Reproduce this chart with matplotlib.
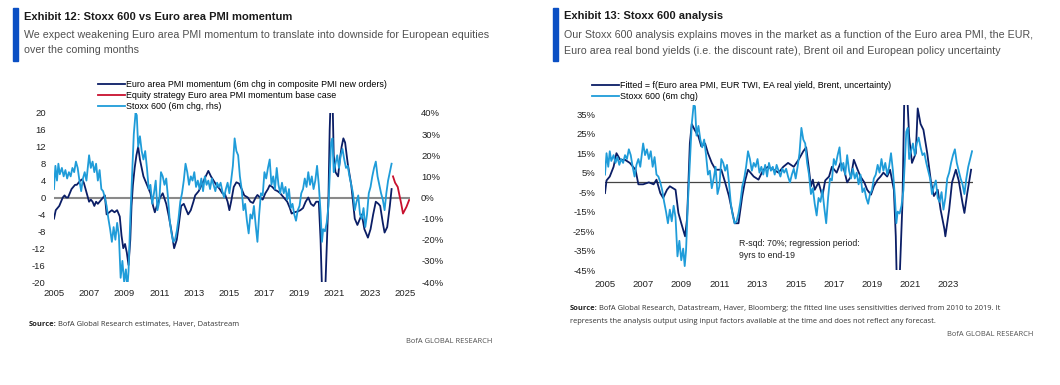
import matplotlib
matplotlib.use("Agg")
import matplotlib.pyplot as plt
from matplotlib import font_manager as fm

# ---------------- data ----------------
stoxx_years = [2005.00, 2005.08, 2005.17, 2005.25, 2005.33, 2005.45, 2005.55, 2005.65, 2005.75, 2005.85,
               2005.95, 2006.05, 2006.15, 2006.25, 2006.35, 2006.45, 2006.55, 2006.65, 2006.75, 2006.85,
               2007.00, 2007.10, 2007.20, 2007.30, 2007.40, 2007.50, 2007.60, 2007.70, 2007.80, 2007.90,
               2008.00, 2008.10, 2008.20, 2008.30, 2008.40, 2008.50, 2008.60, 2008.70, 2008.80, 2008.90,
               2009.00, 2009.10, 2009.18, 2009.25, 2009.35, 2009.45, 2009.55, 2009.65, 2009.72, 2009.80,
               2009.90, 2010.00, 2010.10, 2010.20, 2010.30, 2010.40, 2010.50, 2010.60, 2010.70, 2010.80,
               2010.90, 2011.00, 2011.10, 2011.20, 2011.30, 2011.40, 2011.50, 2011.60, 2011.70, 2011.80,
               2011.90, 2012.00, 2012.10, 2012.20, 2012.30, 2012.40, 2012.50, 2012.60, 2012.70, 2012.80,
               2012.90, 2013.00, 2013.10, 2013.20, 2013.30, 2013.40, 2013.50, 2013.60, 2013.70, 2013.80,
               2013.90, 2014.00, 2014.10, 2014.20, 2014.30, 2014.40, 2014.50, 2014.60, 2014.70, 2014.80,
               2014.90, 2015.00, 2015.10, 2015.20, 2015.30, 2015.40, 2015.50, 2015.60, 2015.70, 2015.80,
               2015.90, 2016.00, 2016.10, 2016.20, 2016.30, 2016.40, 2016.50, 2016.60, 2016.70, 2016.80,
               2016.90, 2017.00, 2017.10, 2017.20, 2017.30, 2017.40, 2017.50, 2017.60, 2017.70, 2017.80,
               2017.90, 2018.00, 2018.10, 2018.20, 2018.30, 2018.40, 2018.50, 2018.60, 2018.70, 2018.80,
               2018.90, 2019.00, 2019.10, 2019.20, 2019.30, 2019.40, 2019.50, 2019.60, 2019.70, 2019.80,
               2019.90, 2020.00, 2020.10, 2020.20, 2020.28, 2020.35, 2020.45, 2020.55, 2020.65, 2020.72,
               2020.80, 2020.88, 2020.95, 2021.05, 2021.15, 2021.25, 2021.35, 2021.45, 2021.55, 2021.65,
               2021.75, 2021.85, 2021.95, 2022.05, 2022.15, 2022.25, 2022.35, 2022.45, 2022.55, 2022.65,
               2022.75, 2022.85, 2022.95, 2023.05, 2023.15, 2023.25, 2023.35, 2023.45, 2023.55, 2023.65,
               2023.75, 2023.85, 2023.95, 2024.05, 2024.15, 2024.25]
stoxx_6m_chg = [4, 15, 8, 16, 11, 14, 10, 13, 9, 12,
                10, 14, 12, 17, 14, 8, 3, 9, 12, 8,
                20, 14, 17, 12, 16, 8, 13, 4, 3, 0,
                -4, -10, -15, -21, -14, -20, -12, -18, -38, -30,
                -40, -34, -43, -35, -10, 10, 30, 40, 39, 24,
                29, 22, 18, 22, 14, 4, 6, -3, 2, 8,
                -6, -2, 12, 10, 6, 9, 0, -11, -17, -21,
                -20, -16, -10, -2, 2, 8, 16, 12, 6, 10,
                8, 12, 5, 8, 4, 9, 3, 10, 6, 8,
                4, 9, 6, 3, 7, 5, 7, 3, 0, 4,
                7, 2, 8, 15, 28, 22, 20, 10, 4, -6,
                -3, -11, -17, -8, -10, -4, -13, -21, -8, 2,
                1, 12, 9, 14, 18, 6, 10, 4, 14, 6,
                2, 7, 2, 5, -1, 4, -5, -3, -8, -11,
                -6, -4, 2, 4, 9, 5, 12, 6, 10, 4,
                8, 15, 6, -7, -21, -15, -16, -12, -4, 10,
                26, 28, 12, 16, 20, 14, 20, 23, 18, 14,
                15, 10, 6, 2, -6, -2, 1, -8, -10, -5,
                -14, -8, 2, 5, 10, 14, 17, 10, 6, 2,
                -1, -6, 2, 8, 12, 16]

pmi_years = [2005.00, 2005.10, 2005.20, 2005.30, 2005.40, 2005.50, 2005.60, 2005.70, 2005.80, 2005.90,
             2006.00, 2006.10, 2006.20, 2006.30, 2006.40, 2006.50, 2006.60, 2006.70, 2006.80, 2006.90,
             2007.00, 2007.10, 2007.20, 2007.30, 2007.40, 2007.50, 2007.60, 2007.70, 2007.80, 2007.90,
             2008.00, 2008.15, 2008.30, 2008.45, 2008.60, 2008.75, 2008.85, 2008.95, 2009.05, 2009.15,
             2009.25, 2009.35, 2009.42, 2009.50, 2009.60, 2009.70, 2009.80, 2009.90, 2010.00, 2010.10,
             2010.20, 2010.35, 2010.50, 2010.65, 2010.75, 2010.90, 2011.05, 2011.20, 2011.40, 2011.55,
             2011.70, 2011.85, 2012.00, 2012.10, 2012.25, 2012.40, 2012.55, 2012.65, 2012.80, 2012.95,
             2013.05, 2013.25, 2013.40, 2013.60, 2013.80, 2013.95, 2014.10, 2014.25, 2014.45, 2014.60,
             2014.75, 2014.90, 2015.00, 2015.10, 2015.25, 2015.40, 2015.55, 2015.70, 2015.85, 2016.05,
             2016.20, 2016.35, 2016.50, 2016.60, 2016.75, 2016.90, 2017.05, 2017.20, 2017.30, 2017.45,
             2017.60, 2017.75, 2017.90, 2018.10, 2018.30, 2018.45, 2018.55, 2018.70, 2018.90, 2019.05,
             2019.20, 2019.35, 2019.50, 2019.65, 2019.80, 2019.95, 2020.10, 2020.20, 2020.27, 2020.35,
             2020.45, 2020.55, 2020.65, 2020.72, 2020.78, 2020.88, 2020.95, 2021.05, 2021.20, 2021.30,
             2021.40, 2021.50, 2021.60, 2021.75, 2021.95, 2022.05, 2022.15, 2022.30, 2022.45, 2022.55,
             2022.70, 2022.80, 2022.90, 2023.05, 2023.20, 2023.35, 2023.50, 2023.60, 2023.75, 2023.85,
             2024.00, 2024.15, 2024.25]
pmi_momentum = [-5, -3, -2.5, -2, -1, 0, 0.5, 0, 0, 1,
                2, 2.5, 3, 3, 3.5, 4, 4.3, 3.5, 2, 0.5,
                -1, -0.5, -1, -2, -1, -1.5, -1, -0.5, 0, 0.5,
                -4, -3.5, -3, -3.5, -3, -4.5, -9, -12, -11, -13,
                -16, -10, -2, 3, 7, 10, 12, 9, 7, 5,
                4, 2.5, 1, -2, -3.5, -1.5, 0, 1, -1.5, -4.5,
                -8, -12, -10, -7, -2, -1.5, -3, -4, -3, -1,
                0.5, 1.5, 2.8, 4.5, 6.3, 5, 4, 3, 2, 1,
                0.8, -1, -3, -1, 2.5, 3.6, 3.3, 2, 0.5, 0,
                -1, -1.3, 0, 0.6, 0, -0.5, 1, 2, 2.9, 2.5,
                1.8, 1.5, 1, 0, -1, -2.5, -3.8, -3.5, -3.3, -3,
                -2.5, -1, 0, -1.5, -2, -1, -1, -10, -20, -24,
                -24, -12, 0, 16, 24, 24, 10, 6, 5, 9,
                12, 14, 13, 8, 3, -1, -5, -6.5, -5, -4,
                -7.5, -8.5, -9.5, -7.5, -4, -1, -1.5, -2, -6, -8.3,
                -7, -2, 2]

base_case_years = [2024.33, 2024.45, 2024.60, 2024.70, 2024.80, 2024.90, 2025.00, 2025.10, 2025.25]
base_case_momentum = [5, 3.5, 2.5, 0.5, -1.5, -3.8, -3, -2.2, -0.6]

fitted_years = [2005.00, 2005.08, 2005.25, 2005.45, 2005.60, 2005.80, 2006.05, 2006.30, 2006.60, 2006.75,
                2007.00, 2007.30, 2007.55, 2007.70, 2007.90, 2008.05, 2008.25, 2008.40, 2008.70, 2008.85,
                2009.00, 2009.20, 2009.30, 2009.35, 2009.45, 2009.55, 2009.70, 2009.90, 2010.05, 2010.25,
                2010.40, 2010.60, 2010.80, 2010.95, 2011.10, 2011.30, 2011.50, 2011.65, 2011.80, 2012.00,
                2012.20, 2012.35, 2012.50, 2012.80, 2013.05, 2013.30, 2013.55, 2013.85, 2014.10, 2014.35,
                2014.60, 2014.90, 2015.15, 2015.40, 2015.55, 2015.68, 2015.80, 2015.90, 2016.00, 2016.20,
                2016.40, 2016.55, 2016.75, 2016.90, 2017.15, 2017.35, 2017.50, 2017.70, 2017.90, 2018.05,
                2018.25, 2018.40, 2018.60, 2018.75, 2018.95, 2019.10, 2019.30, 2019.45, 2019.60, 2019.80,
                2019.95, 2020.15, 2020.25, 2020.30, 2020.45, 2020.60, 2020.70, 2020.85, 2020.95, 2021.10,
                2021.30, 2021.40, 2021.55, 2021.70, 2021.90, 2022.10, 2022.25, 2022.45, 2022.60, 2022.80,
                2022.85, 2023.05, 2023.20, 2023.40, 2023.55, 2023.75, 2023.85, 2024.00, 2024.20]
fitted_values = [-5.5, 1, 3, 8, 15, 11.6, 11.6, 10, 6.5, -1,
                 -1, 0, -1, 1.4, -5.5, -8, -3.8, -2, -3.8, -15.7,
                 -21, -27.7, -19, -7, 20, 30, 27, 23.6, 18.5, 20,
                 15, 10, 6.5, 6.5, 6.5, 0, -7, -14, -21, -21,
                 -7, 1, 6.5, 3, 1.4, 6.5, 8, 6.5, 5, 8,
                 10, 8, 11.6, 16, 18, 8, -2, 1.4, -3.8, 0,
                 -7, 1, 3, 8, 5, 10, 8, 0, 3, 11.6,
                 6.5, 3, 0, -3.8, -6.3, -2, 1.4, 3, 5, 3,
                 6.5, -3.8, -27.7, -50, -50, -10.6, 45, 45, 23.6, 10,
                 15, 38, 30, 27, 15, 0, -7, -3.8, -14, -24,
                 -27.7, -14, 0, 6.5, 1, -10.6, -15.7, -5.5, 6.5]

left_yticks = [-20, -16, -12, -8, -4, 0, 4, 8, 12, 16, 20]
right_yticks = [-40, -30, -20, -10, 0, 10, 20, 30, 40]
fit_yticks = [-45, -35, -25, -15, -5, 5, 15, 25, 35]
left_xticks = [2005, 2007, 2009, 2011, 2013, 2015, 2017, 2019, 2021, 2023, 2025]
right_xticks = [2005, 2007, 2009, 2011, 2013, 2015, 2017, 2019, 2021, 2023]

# ---------------- style ----------------
names = {f.name for f in fm.fontManager.ttflist}
NARROW = "Liberation Sans Narrow" if "Liberation Sans Narrow" in names else "Liberation Sans"
plt.rcParams["font.family"] = [NARROW, "DejaVu Sans"]

NAVY = "#0b1e66"
LIGHT = "#1f9cd9"
RED = "#c8102e"
BAR = "#0a4fc4"
GREY_TXT = "#505050"

TICK_FS = 6.8
LEG_FS = 6.4
TITLE_FS = 8.0
SUB_FS = 7.7

W, H = 1060, 385
fig = plt.figure(figsize=(W / 100, H / 100), dpi=100)


def px_axes(x0, y0, x1, y1):
    return fig.add_axes([x0 / W, 1 - y1 / H, (x1 - x0) / W, (y1 - y0) / H])


def fx(x):
    return x / W


def fy(y):
    return 1 - y / H


def clean(ax):
    for s in ax.spines.values():
        s.set_visible(False)
    ax.tick_params(length=0, labelsize=TICK_FS, colors="#222222")
    ax.patch.set_alpha(0)


# ---------------- left panel ----------------
fig.patches.append(plt.Rectangle((fx(13), fy(61)), 5 / W, 53 / H, transform=fig.transFigure,
                                 color=BAR, zorder=5))
fig.text(fx(24), fy(19.5), "Exhibit 12: Stoxx 600 vs Euro area PMI momentum", fontsize=TITLE_FS,
         fontweight="bold", color="#1a1a1a", va="baseline")
fig.text(fx(24), fy(37.5), "We expect weakening Euro area PMI momentum to translate into downside for European equities",
         fontsize=SUB_FS, color=GREY_TXT, va="baseline")
fig.text(fx(24), fy(53), "over the coming months", fontsize=SUB_FS, color=GREY_TXT, va="baseline")

axL = px_axes(54, 113, 410, 282)
axL.set_xlim(2005, 2025.3)
axL.set_ylim(-20, 20)
axL.axhline(0, color="#8a8a8a", lw=1.5, zorder=1)
l1, = axL.plot(pmi_years, pmi_momentum, color=NAVY, lw=1.3, zorder=2)
l2, = axL.plot(base_case_years, base_case_momentum, color=RED, lw=1.3, zorder=2)
axL.set_yticks(left_yticks)
axL.set_yticklabels([str(v) for v in left_yticks])
axL.set_xticks(left_xticks)
axL.set_xticklabels([str(v) for v in left_xticks])
clean(axL)
axL.tick_params(axis="y", pad=6)
axL.tick_params(axis="x", pad=5)

axR = axL.twinx()
axR.set_ylim(-40, 40)
l3, = axR.plot(stoxx_years, stoxx_6m_chg, color=LIGHT, lw=1.3, zorder=3)
axR.set_yticks(right_yticks)
axR.set_yticklabels([f"{v}%" for v in right_yticks])
clean(axR)
axR.tick_params(axis="y", pad=8)

fig.legend([l1, l2, l3],
           ["Euro area PMI momentum (6m chg in composite PMI new orders)",
            "Equity strategy Euro area PMI momentum base case",
            "Stoxx 600 (6m chg, rhs)"],
           loc="upper left", bbox_to_anchor=(fx(98), fy(80)), frameon=False, fontsize=LEG_FS,
           handlelength=3.0, handletextpad=0.2, labelspacing=0.25, borderpad=0, borderaxespad=0)

# ---------------- right panel ----------------
fig.patches.append(plt.Rectangle((fx(553), fy(61)), 5 / W, 53 / H, transform=fig.transFigure,
                                 color=BAR, zorder=5))
fig.text(fx(564), fy(19), "Exhibit 13: Stoxx 600 analysis", fontsize=TITLE_FS, fontweight="bold",
         color="#1a1a1a", va="baseline")
fig.text(fx(564), fy(38), "Our Stoxx 600 analysis explains moves in the market as a function of the Euro area PMI, the EUR,",
         fontsize=SUB_FS, color=GREY_TXT, va="baseline")
fig.text(fx(564), fy(54), "Euro area real bond yields (i.e. the discount rate), Brent oil and European policy uncertainty",
         fontsize=SUB_FS, color=GREY_TXT, va="baseline")

axF = px_axes(605, 104.5, 973, 270)
axF.set_xlim(2005, 2024.3)
axF.set_ylim(-45, 40)
axF.axhline(0, color="#444444", lw=0.9, zorder=1)
f1, = axF.plot(fitted_years, fitted_values, color=NAVY, lw=1.3, zorder=2)
f2, = axF.plot(stoxx_years, stoxx_6m_chg, color=LIGHT, lw=1.3, zorder=3)
axF.set_yticks(fit_yticks)
axF.set_yticklabels([f"{v}%" for v in fit_yticks])
axF.set_xticks(right_xticks)
axF.set_xticklabels([str(v) for v in right_xticks])
clean(axF)
axF.tick_params(axis="y", pad=7)
axF.tick_params(axis="x", pad=7)
axF.text(fx(739), fy(244), "R-sqd: 70%; regression period:", transform=fig.transFigure,
         fontsize=6.3, color="#222222", va="center")
axF.text(fx(739), fy(256), "9yrs to end-19", transform=fig.transFigure,
         fontsize=6.3, color="#222222", va="center")

fig.legend([f1, f2],
           ["Fitted = f(Euro area PMI, EUR TWI, EA real yield, Brent, uncertainty)",
            "Stoxx 600 (6m chg)"],
           loc="upper left", bbox_to_anchor=(fx(592), fy(81)), frameon=False, fontsize=LEG_FS,
           handlelength=3.0, handletextpad=0.2, labelspacing=0.25, borderpad=0, borderaxespad=0)

# ---------------- sources ----------------
SRC_FS = 5.4
SRC_FAM = ["Open Sans", "DejaVu Sans"]
fig.canvas.draw()
rend = fig.canvas.get_renderer()


def source_line(x, y, bold, rest):
    tb = fig.text(fx(x), fy(y), bold, fontsize=SRC_FS, fontweight="bold", family=SRC_FAM,
                  color="#222222", va="baseline")
    if rest:
        bb = tb.get_window_extent(rend)
        fig.text(bb.x1 / W + 1.5 / W, fy(y), rest, fontsize=SRC_FS, family=SRC_FAM,
                 color="#333333", va="baseline")


source_line(29, 326, "Source:", "BofA Global Research estimates, Haver, Datastream")
fig.text(fx(492), fy(343), "BofA GLOBAL RESEARCH", fontsize=SRC_FS, family=SRC_FAM, color=GREY_TXT,
         ha="right", va="baseline")

source_line(570, 310, "Source:", "BofA Global Research, Datastream, Haver, Bloomberg; the fitted line uses "
                                 "sensitivities derived from 2010 to 2019. It")
fig.text(fx(570), fy(323), "represents the analysis output using input factors available at the time and does not reflect any forecast.",
         fontsize=SRC_FS, family=SRC_FAM, color="#333333", va="baseline")
fig.text(fx(1033), fy(336), "BofA GLOBAL RESEARCH", fontsize=SRC_FS, family=SRC_FAM, color=GREY_TXT,
         ha="right", va="baseline")

fig.savefig("out.png", dpi=100)
